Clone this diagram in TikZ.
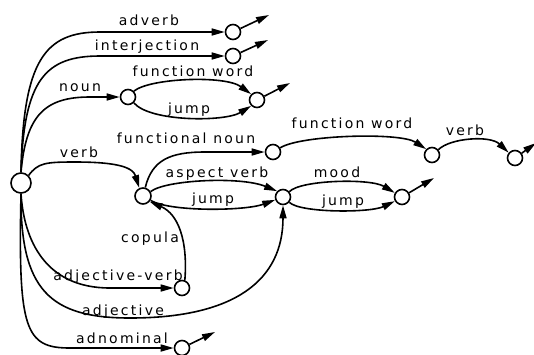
\documentclass[tikz,border=0pt]{standalone}
\usepackage{fontspec}
\usetikzlibrary{arrows.meta}
\newfontfamily\lblfont{DejaVu Sans}[LetterSpace=16]
\begin{document}
\begin{tikzpicture}[x=1pt,y=-1pt,
  st/.style={circle,draw,line width=1.6pt,minimum size=15pt,inner sep=0pt,fill=white},
  lbl/.style={font=\lblfont\fontsize{14}{16}\selectfont,inner sep=0pt,anchor=base},
  arc/.style={line width=1.6pt,-{Triangle[length=13pt,width=7pt]}}]
\useasboundingbox (0,0) rectangle (534,354);
% states
\node[st,minimum size=20pt] (S) at (21,183) {};
\node[st] (A1) at (233,32) {};
\node[st] (A2) at (233,56) {};
\node[st] (N) at (128,97) {};
\node[st] (N2) at (257,100) {};
\node[st,minimum size=16pt] (V) at (143,196) {};
\node[st] (FN) at (273,152) {};
\node[st] (FW) at (432,155) {};
\node[st] (VE) at (515,158) {};
\node[st] (AS) at (283,197) {};
\node[st] (M) at (402,197) {};
\node[st] (AV) at (182,288) {};
\node[st] (AD) at (182,348) {};
% free ends
\coordinate (A1o) at (269,15);
\coordinate (A2o) at (268,40);
\coordinate (N2o) at (290,83);
\coordinate (VEo) at (536,143);
\coordinate (Mo) at (434,178);
\coordinate (ADo) at (215,332);
% labels
\node[lbl] (ladverb) at (149,25) {adverb};
\node[lbl] (linterj) at (147,50) {interjection};
\node[lbl] (lnoun) at (80,91) {noun};
\node[lbl] (lfw1) at (193,76) {function word};
\node[lbl] (ljump1) at (189,113) {jump};
\node[lbl] (lverb1) at (79,157) {verb};
\node[lbl] (lfnoun) at (186,143) {functional noun};
\node[lbl] (lfw2) at (352,128) {function word};
\node[lbl] (lverb2) at (465,135) {verb};
\node[lbl] (laspect) at (217,177) {aspect verb};
\node[lbl] (ljump2) at (213,203) {jump};
\node[lbl] (lmood) at (337,177) {mood};
\node[lbl] (ljump3) at (343,205) {jump};
\node[lbl] (lcopula) at (150,242) {copula};
\node[lbl] (ladjv) at (118,280) {adjective-verb};
\node[lbl] (ladj) at (123,315) {adjective};
\node[lbl] (ladn) at (122,343) {adnominal};
% arcs
\draw[arc] (S.north) .. controls (23,60) and (45,32) .. (100,32) -- (A1);
\draw[arc] (S.north) .. controls (24,80) and (45,56) .. (100,56) -- (A2);
\draw[arc] (S.north) .. controls (26,115) and (45,97) .. (90,97) -- (N);
\draw[arc] (N.north east) .. controls (150,78) and (225,75) .. (N2.north west);
\draw[arc] (N.south east) .. controls (150,122) and (225,122) .. (N2.south west);
\draw[arc] (S.north east) .. controls (38,163) and (45,162) .. (75,162) .. controls (120,162) and (133,168) .. (V.115);
\draw[arc] (V.75) .. controls (152,160) and (170,152) .. (205,152) -- (FN);
\draw[arc] (V.30) .. controls (165,180) and (240,176) .. (AS.135);
\draw[arc] (V.-30) .. controls (170,212) and (245,211) .. (AS.200);
\draw[arc] (AV.70) .. controls (188,240) and (178,214) .. (V.-40);
\draw[arc] (S.south) .. controls (24,240) and (45,288) .. (110,288) -- (AV);
\draw[arc] (S.south) .. controls (20,290) and (50,318) .. (130,318) .. controls (235,318) and (283,280) .. (AS.south);
\draw[arc] (S.south) .. controls (18,330) and (25,348) .. (70,348) -- (AD);
\draw[arc] (FN.30) .. controls (300,135) and (400,132) .. (FW.135);
\draw[arc] (FW.40) .. controls (450,138) and (490,135) .. (VE.140);
\draw[arc] (AS.40) .. controls (300,180) and (370,178) .. (M.150);
\draw[arc] (AS.-40) .. controls (300,213) and (370,213) .. (M.-150);
\draw[arc] (A1) -- (A1o);
\draw[arc] (A2) -- (A2o);
\draw[arc] (N2) -- (N2o);
\draw[arc] (VE) -- (VEo);
\draw[arc] (M) -- (Mo);
\draw[arc] (AD) -- (ADo);
\end{tikzpicture}
\end{document}
